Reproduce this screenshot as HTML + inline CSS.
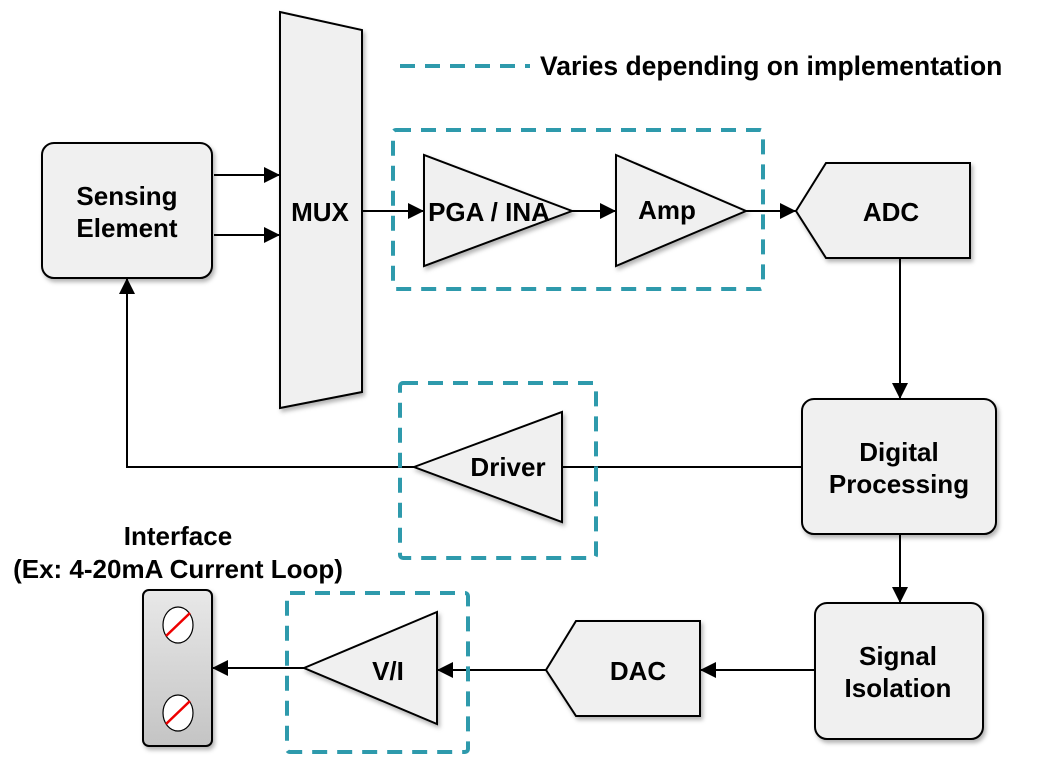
<!DOCTYPE html>
<html><head><meta charset="utf-8"><style>
html,body{margin:0;padding:0;background:#fff;}
svg text{font-family:"Liberation Sans",sans-serif;font-weight:bold;fill:#000;}
</style></head><body>
<svg width="1048" height="771" viewBox="0 0 1048 771" xmlns="http://www.w3.org/2000/svg">
<defs>
<marker id="a" viewBox="0 0 10 10" refX="10" refY="5" markerWidth="16" markerHeight="16" markerUnits="userSpaceOnUse" orient="auto"><path d="M0,0 L10,5 L0,10 z" fill="#000"/></marker>
<linearGradient id="g" x1="0" y1="0" x2="0" y2="1"><stop offset="0" stop-color="#e8e8e8"/><stop offset="1" stop-color="#c4c4c4"/></linearGradient>
<filter id="s" x="-10%" y="-10%" width="130%" height="130%"><feDropShadow dx="2" dy="3" stdDeviation="2" flood-color="#000" flood-opacity="0.3"/></filter>
</defs>
<g stroke="#000" stroke-width="2" fill="#f0f0f0">
<rect x="42" y="143" width="170" height="135" rx="12" filter="url(#s)"/>
<polygon points="280,12 362,30 362,392 280,408" filter="url(#s)"/>
<polygon points="424,155 424,266 572,211" filter="url(#s)"/>
<polygon points="616,155 616,266 746,211" filter="url(#s)"/>
<polygon points="796,211 826,163 970,163 970,258 826,258" filter="url(#s)"/>
<rect x="802" y="399" width="194" height="135" rx="12" filter="url(#s)"/>
<polygon points="414,467 562,412 562,522" filter="url(#s)"/>
<rect x="815" y="603" width="168" height="136" rx="12" filter="url(#s)"/>
<polygon points="546,670 576,621 700,621 700,716 576,716" filter="url(#s)"/>
<polygon points="304,668 437,612 437,724" filter="url(#s)"/>
<rect x="143" y="590" width="69" height="156" rx="6" fill="url(#g)" filter="url(#s)"/>
</g>
<g stroke="#000" stroke-width="1.2" fill="#fff">
<ellipse cx="178" cy="625" rx="15" ry="18"/>
<ellipse cx="178" cy="713" rx="15" ry="18"/>
</g>
<g stroke="#e00" stroke-width="2.5">
<line x1="166" y1="636" x2="190" y2="613"/>
<line x1="166" y1="724" x2="190" y2="701"/>
</g>
<g stroke="#000" stroke-width="2" fill="none">
<line x1="214" y1="175" x2="280" y2="175" marker-end="url(#a)"/>
<line x1="214" y1="235" x2="280" y2="235" marker-end="url(#a)"/>
<line x1="362" y1="211" x2="424" y2="211" marker-end="url(#a)"/>
<line x1="572" y1="211" x2="616" y2="211" marker-end="url(#a)"/>
<line x1="746" y1="211" x2="796" y2="211" marker-end="url(#a)"/>
<line x1="900" y1="258" x2="900" y2="399" marker-end="url(#a)"/>
<line x1="900" y1="534" x2="900" y2="603" marker-end="url(#a)"/>
<line x1="802" y1="467" x2="562" y2="467"/>
<polyline points="414,467 127,467 127,278" marker-end="url(#a)"/>
<line x1="815" y1="670" x2="700" y2="670" marker-end="url(#a)"/>
<line x1="546" y1="670" x2="437" y2="670" marker-end="url(#a)"/>
<line x1="304" y1="668" x2="212" y2="668" marker-end="url(#a)"/>
</g>
<g stroke="#2e9aac" stroke-width="4" fill="none" stroke-dasharray="15,10">
<line x1="400" y1="66" x2="530" y2="66"/>
<rect x="393" y="130" width="370" height="159" rx="3"/>
<rect x="400" y="383" width="196" height="175" rx="3"/>
<rect x="287" y="593" width="181" height="159" rx="3"/>
</g>
<g font-size="26" text-anchor="middle">
<text x="540" y="75" text-anchor="start" font-size="26.5">Varies depending on implementation</text>
<text x="127" y="205">Sensing</text>
<text x="127" y="237">Element</text>
<text x="320" y="221">MUX</text>
<text x="489" y="221">PGA / INA</text>
<text x="667" y="219">Amp</text>
<text x="891" y="221">ADC</text>
<text x="899" y="461">Digital</text>
<text x="899" y="493">Processing</text>
<text x="508" y="476">Driver</text>
<text x="898" y="665">Signal</text>
<text x="898" y="697">Isolation</text>
<text x="638" y="680">DAC</text>
<text x="388" y="680">V/I</text>
<text x="178" y="545" font-size="26">Interface</text>
<text x="178" y="578" font-size="26">(Ex: 4-20mA Current Loop)</text>
</g>
</svg>
</body></html>
